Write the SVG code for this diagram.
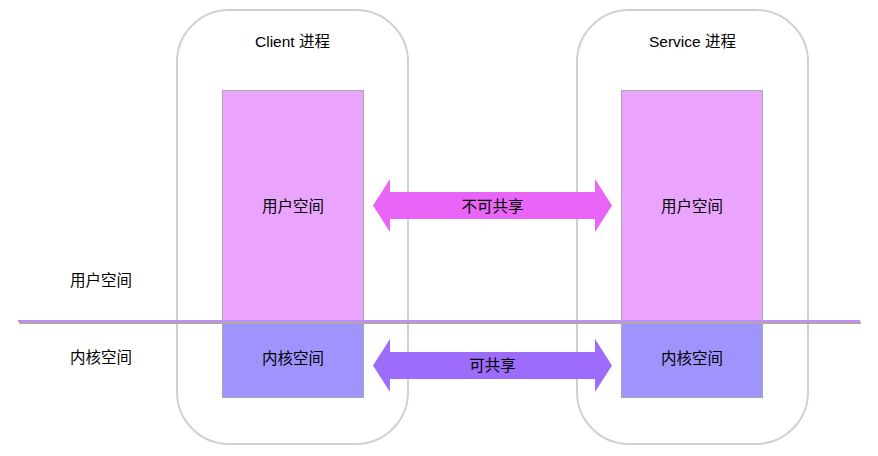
<svg xmlns="http://www.w3.org/2000/svg" width="878" height="456" viewBox="0 0 878 456">
<defs>
<style>
.proc{fill:#fff;stroke:#d0d0d0;stroke-width:2}
.user{fill:#eba4fd;stroke:#a8a8a8;stroke-width:1}
.kern{fill:#9f94fe;stroke:#a8a8a8;stroke-width:1}
text{font-family:"Liberation Sans","Noto Sans CJK SC",sans-serif;font-size:15.5px;fill:#000;text-anchor:middle}
</style>
</defs>
<rect width="878" height="456" fill="#fff"/>
<g id="client">
<rect class="proc" x="177" y="10" width="231" height="434" rx="52" ry="52"/>
<text x="292.5" y="47">Client 进程</text>
</g>
<g id="service">
<rect class="proc" x="577" y="10" width="231" height="434" rx="52" ry="52"/>
<text x="692.5" y="47">Service 进程</text>
</g>
<g id="client-user">
<rect class="user" x="222.5" y="90.5" width="141" height="230"/>
<text x="293" y="212">用户空间</text>
</g>
<g id="client-kernel">
<rect class="kern" x="222.5" y="320.5" width="141" height="77"/>
<text x="293" y="364">内核空间</text>
</g>
<g id="service-user">
<rect class="user" x="621.5" y="90.5" width="141" height="230"/>
<text x="692" y="212">用户空间</text>
</g>
<g id="service-kernel">
<rect class="kern" x="621.5" y="320.5" width="141" height="77"/>
<text x="692" y="364">内核空间</text>
</g>
<g id="labels">
<text x="101" y="286">用户空间</text>
<text x="101" y="363">内核空间</text>
</g>
<g id="connectors">
<line x1="19" y1="323" x2="861" y2="323" stroke="#aaaaaa" stroke-width="2"/>
<line x1="18" y1="321" x2="860" y2="321" stroke="#c58af9" stroke-width="2"/>
<polygon points="373,205.5 390,179 390,192 595,192 595,179 612,205.5 595,232 595,219 390,219 390,232" fill="#e965f7"/>
<polygon points="373,365.5 390,339 390,352 595,352 595,339 612,365.5 595,392 595,379 390,379 390,392" fill="#9d6cfa"/>
<text x="492.5" y="212">不可共享</text>
<text x="492.5" y="371">可共享</text>
</g>
</svg>
